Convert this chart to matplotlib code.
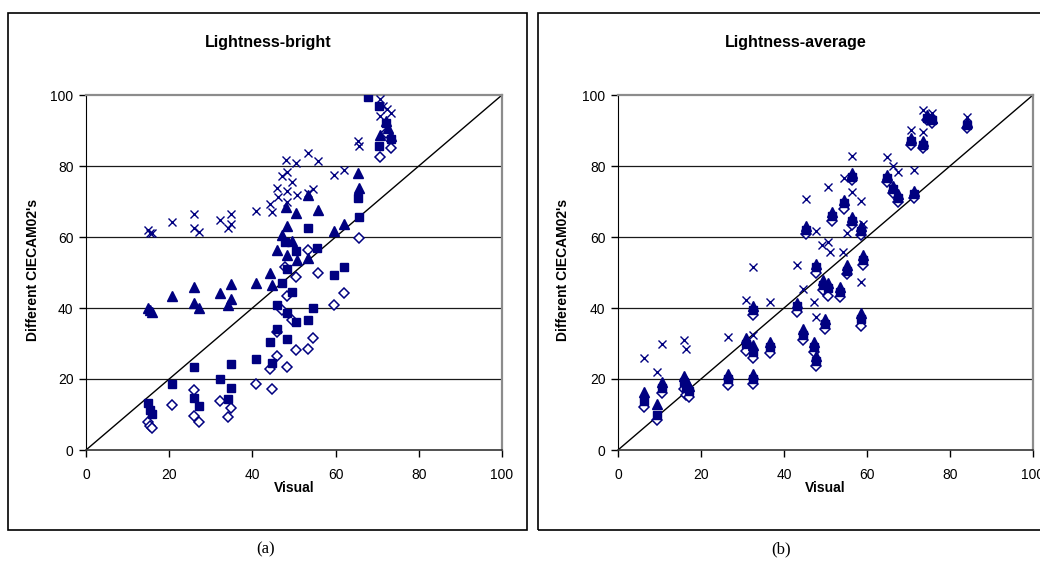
import matplotlib
matplotlib.use('Agg')
import matplotlib.pyplot as plt
from matplotlib.patches import Rectangle

# ---- panel (a): Lightness-bright ----
a_dia_x = [15.0, 15.3, 15.8, 20.6, 26.0, 26.0, 27.2, 32.2, 34.8, 34.2, 40.8, 44.2, 44.8,
           45.8, 45.8, 47.0, 48.4, 48.4, 49.6, 50.6, 50.6, 47.8, 53.3, 55.8, 54.6, 53.3,
           59.5, 62.1, 65.7, 70.7, 73.2, 72.1]
a_dia_y = [8.0, 6.8, 6.1, 12.7, 16.9, 9.7, 7.8, 13.9, 11.7, 9.4, 18.5, 22.7, 17.1,
           33.3, 26.6, 39.4, 43.4, 23.5, 36.6, 28.2, 48.8, 51.6, 56.3, 50.0, 31.6, 28.5,
           40.8, 44.1, 59.6, 82.6, 85.2, 89.2]

a_sq_x = [15.0, 15.3, 15.8, 20.6, 26.0, 26.0, 27.2, 32.2, 34.8, 34.8, 34.2, 40.8, 44.2, 44.8,
          45.8, 45.8, 47.0, 48.4, 48.4, 48.4, 49.6, 50.6, 47.8, 50.6, 53.3, 55.5, 54.6, 53.3,
          59.5, 62.1, 65.3, 65.7, 67.9, 70.5, 72.1, 73.2, 70.5]
a_sq_y = [13.2, 11.3, 10.1, 18.6, 23.5, 14.6, 12.5, 20.0, 24.2, 17.4, 14.3, 25.6, 30.3, 24.4,
          40.8, 34.1, 47.1, 50.9, 38.5, 31.3, 44.4, 36.0, 58.7, 56.1, 62.6, 57.0, 39.9, 36.6,
          49.3, 51.6, 71.1, 65.7, 99.5, 97.0, 92.0, 87.5, 85.5]

a_tri_x = [15.0, 15.3, 15.8, 20.6, 26.0, 26.0, 27.2, 32.2, 34.8, 34.8, 34.2, 40.8, 44.2, 44.8,
           45.8, 47.0, 48.0, 48.4, 48.4, 49.6, 50.6, 50.8, 53.3, 55.8, 53.3, 59.5, 62.1,
           65.3, 65.7, 70.7, 72.1, 72.7, 73.2]
a_tri_y = [39.9, 39.5, 39.0, 43.4, 45.8, 41.3, 40.1, 44.1, 46.7, 42.5, 40.8, 47.1, 50.0, 46.5,
           56.3, 60.6, 68.4, 63.2, 54.9, 59.0, 66.8, 53.5, 71.8, 67.6, 54.0, 61.8, 63.8,
           77.9, 73.9, 88.6, 92.7, 90.6, 88.5]

a_x_x = [15.0, 15.3, 15.8, 20.6, 26.0, 26.0, 27.2, 32.2, 34.8, 34.8, 34.2, 40.8, 44.2, 44.8,
         45.8, 46.2, 47.2, 48.0, 48.4, 48.4, 48.4, 49.6, 50.6, 50.8, 53.3, 55.8, 54.6, 53.3,
         59.5, 62.1, 65.3, 65.7, 70.7, 70.7, 72.3, 73.3, 71.5]
a_x_y = [62.0, 61.0, 61.2, 64.3, 66.5, 62.5, 61.5, 64.8, 66.5, 63.6, 62.5, 67.4, 69.3, 67.0,
         73.9, 71.4, 77.3, 81.7, 78.4, 73.0, 70.0, 75.6, 80.9, 71.8, 83.8, 81.3, 73.5, 72.3,
         77.5, 78.9, 87.1, 85.5, 99.0, 94.0, 96.1, 94.8, 97.0]

# ---- panel (b): Lightness-average ----
b_x = [6.3, 9.5, 10.7, 15.9, 16.4, 17.0, 26.6, 30.8, 32.6, 32.6, 32.6, 36.6, 43.2, 44.5,
       47.2, 47.7, 47.7, 45.2, 49.5, 50.5, 49.8, 51.5, 53.5, 54.5, 55.1, 56.3, 56.5, 58.5,
       58.5, 59.0, 64.7, 66.3, 67.4, 71.4, 70.5, 73.6, 74.5, 75.6, 84.0]
b_tri_y = [16.4, 13.0, 19.2, 20.8, 19.5, 18.0, 21.5, 31.5, 40.5, 29.5, 21.5, 30.5, 41.5, 34.0,
           30.5, 26.5, 52.5, 63.0, 48.0, 47.0, 37.0, 67.0, 46.0, 70.5, 52.0, 65.5, 78.0, 63.0,
           38.5, 55.0, 77.5, 74.5, 72.0, 73.0, 88.0, 87.0, 94.5, 93.5, 92.3]
b_sq_y = [13.8, 10.0, 17.5, 19.2, 17.5, 16.5, 20.0, 29.8, 39.5, 27.5, 20.0, 29.0, 40.5, 32.5,
          29.0, 25.0, 51.5, 62.0, 46.5, 45.5, 35.5, 66.0, 44.5, 69.5, 50.5, 64.5, 77.0, 61.8,
          37.0, 53.5, 76.5, 73.5, 71.0, 72.0, 87.0, 86.0, 93.5, 93.0, 91.5]
b_dia_y = [12.0, 8.5, 16.0, 17.2, 15.5, 14.8, 18.2, 28.0, 38.0, 25.8, 18.5, 27.3, 39.0, 31.0,
           27.5, 23.8, 50.0, 60.8, 45.0, 43.5, 34.0, 64.5, 43.0, 68.0, 49.5, 63.5, 76.0, 60.5,
           35.0, 52.0, 75.5, 72.5, 70.0, 71.0, 86.0, 85.0, 93.0, 92.2, 90.8]

b_x_x = [6.3, 9.3, 10.7, 15.9, 16.4, 26.6, 30.8, 32.6, 32.6, 36.6, 43.2, 44.5, 47.2, 47.7,
         45.2, 47.6, 49.1, 50.7, 50.7, 51.1, 54.1, 55.1, 54.5, 56.3, 56.5, 58.5, 59.0, 58.5,
         64.7, 66.3, 67.4, 71.4, 70.5, 73.6, 73.6, 75.6, 84.0]
b_x_y = [26.0, 22.1, 29.9, 31.0, 28.5, 31.9, 42.3, 51.5, 32.4, 41.6, 52.1, 45.3, 41.6, 37.5,
         70.7, 61.8, 57.7, 74.2, 58.5, 55.9, 55.9, 61.2, 76.7, 72.8, 82.8, 70.2, 63.6, 47.4,
         82.6, 79.9, 78.2, 78.9, 90.1, 89.5, 95.8, 94.8, 93.9]

navy = '#000080'
W, H = 1040, 563
narrow = ['Liberation Sans Narrow', 'Liberation Sans', 'DejaVu Sans']


def draw_panel(ax, dia, sq, tri, crs):
    ax.plot(*dia, 'D', ms=4.6, mfc='white', mec=navy, mew=1.1, ls='none', zorder=3)
    ax.plot(*sq, 's', ms=5.6, color=navy, ls='none', zorder=4)
    ax.plot(*tri, '^', ms=6.6, color=navy, ls='none', zorder=5)
    ax.plot(*crs, 'x', ms=6.4, mec=navy, mew=1.0, ls='none', zorder=6)
    ax.plot([0, 100], [0, 100], color='black', lw=1, zorder=2)
    ax.set_xlim(0, 100)
    ax.set_ylim(0, 100)
    ax.set_xticks(range(0, 101, 20))
    ax.set_yticks(range(0, 101, 20))
    for v in range(20, 100, 20):
        ax.axhline(v, color='#1a1a1a', lw=0.9, zorder=1)
    ax.spines['top'].set_color('#8c8c8c')
    ax.spines['top'].set_linewidth(1.6)
    ax.spines['right'].set_color('#8c8c8c')
    ax.spines['right'].set_linewidth(1.6)
    ax.spines['left'].set_color('black')
    ax.spines['bottom'].set_color('#333333')
    ax.spines['bottom'].set_linewidth(1.2)
    ax.tick_params(direction='out', length=5, width=1, labelsize=10)
    ax.tick_params(axis='x', pad=8)
    ax.tick_params(axis='y', pad=4)
    for lab in ax.get_xticklabels() + ax.get_yticklabels():
        lab.set_family(narrow)


fig = plt.figure(figsize=(W / 100, H / 100), dpi=100)

# outer frames
fig.patches.append(Rectangle((8 / W, 1 - 530 / H), 519 / W, 517 / H, transform=fig.transFigure,
                             fill=False, ec='black', lw=1.2))
fig.patches.append(Rectangle((538 / W, 1 - 530 / H), 520 / W, 517 / H, transform=fig.transFigure,
                             fill=False, ec='black', lw=1.2))

ax1 = fig.add_axes([86 / W, 1 - 450 / H, 416 / W, 355 / H])
draw_panel(ax1, (a_dia_x, a_dia_y), (a_sq_x, a_sq_y), (a_tri_x, a_tri_y), (a_x_x, a_x_y))

ax2 = fig.add_axes([618 / W, 1 - 450 / H, 415 / W, 355 / H])
draw_panel(ax2, (b_x, b_dia_y), (b_x, b_sq_y), (b_x, b_tri_y), (b_x_x, b_x_y))

fig.text(268 / W, 1 - 42 / H, 'Lightness-bright', ha='center', va='center',
         fontsize=11.5, fontweight='bold', family='Liberation Sans')
fig.text(796 / W, 1 - 42 / H, 'Lightness-average', ha='center', va='center',
         fontsize=11.5, fontweight='bold', family='Liberation Sans')

for xl, xv in [(33, 294), (563, 825)]:
    fig.text(xl / W, 1 - 270 / H, "Different CIECAM02's", rotation=90, ha='center', va='center',
             fontsize=10, fontweight='bold', family=narrow)
    fig.text(xv / W, 1 - 488 / H, 'Visual', ha='center', va='center',
             fontsize=10, fontweight='bold', family=narrow)

fig.text(266 / W, 1 - 549 / H, '(a)', ha='center', va='center', fontsize=12, family='Liberation Serif')
fig.text(781 / W, 1 - 549 / H, '(b)', ha='center', va='center', fontsize=12, family='Liberation Serif')

fig.savefig('out.png', dpi=100)
